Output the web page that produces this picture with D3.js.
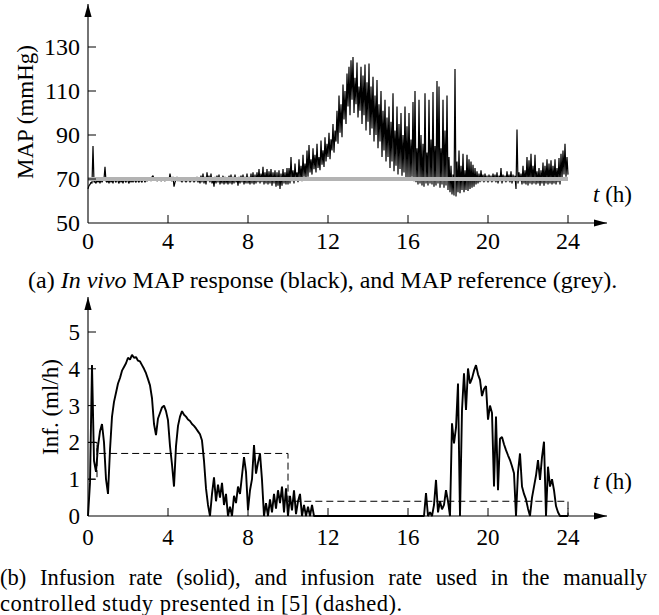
<!DOCTYPE html>
<html>
<head>
<meta charset="utf-8">
<script src="https://cdn.jsdelivr.net/npm/d3@7"></script>
<style>
  body { margin: 0; background: #fff; }
  svg text { font-family: "Liberation Serif", "Times New Roman", serif; fill: #000; }
</style>
</head>
<body>
<div id="chart"></div>
<script>
// valores
var hours = [0, 4, 8, 12, 16, 20, 24];
var mapTicks = [50, 70, 90, 110, 130];
var infTicks = [0, 1, 2, 3, 4, 5];
var mapRef = 70;
var mapStep = 0.05; // h entre muestras de MAP
var infStep = 0.1;  // h entre muestras de infusion

// MAP (mmHg), una muestra cada 0.05 h de 0 a 24 h (20 por hora)
var mapValues = [
  65.5, 67, 67.5, 68.5, 68, 85, 68.5, 69, 68, 69.5, 68.5, 69.5, 68, 70, 68.5, 69.5, 70, 75.5, 69, 68.5,
  69.5, 68, 70, 68.5, 69.5, 68, 70.5, 69, 68.5, 70, 69, 68, 70, 68.5, 69.5, 68, 70, 69, 68.5, 70,
  69, 68, 70, 68.5, 69.5, 68.5, 70, 69, 68.5, 70, 69, 68.5, 70, 69, 68.5, 70, 69.5, 68.5, 70, 69,
  70, 69.5, 70.5, 69, 71, 71.5, 70, 69.5, 70.5, 69, 70, 69.5, 70.5, 69, 70, 69.5, 70, 69, 70.5, 69.5,
  70, 69.5, 72.5, 70, 69, 71, 66.5, 68.5, 69.5, 71, 69, 70.5, 69, 70, 68.5, 70.5, 69, 70, 68.5, 70,
  69, 70.5, 68.5, 70, 69, 70.5, 68.5, 70, 69, 71, 68.5, 70.5, 68, 71.5, 68.5, 72.5, 68, 71, 67.5, 73,
  69, 71.5, 68.5, 72.5, 68, 70, 66.5, 71, 68, 71.5, 68.5, 72, 67.5, 70.5, 68, 71.5, 67.5, 71, 68, 70.5,
  67.5, 71.5, 68, 72, 67.5, 71, 68, 72, 68.5, 70.5, 67, 71, 68, 71.5, 68.5, 72, 67.5, 71, 68, 72.5,
  68, 71, 67.5, 72.5, 68, 73, 67.5, 72, 68, 73, 68.5, 74.5, 68, 72.5, 68.5, 75.5, 67.5, 73, 68, 74.5,
  67.5, 73.5, 68, 74.5, 67, 73, 68, 74, 66.5, 73, 67, 74, 65.5, 72.5, 67, 74.5, 68, 73, 67.5, 75,
  67.5, 75, 68, 80, 69, 74, 68, 77, 70, 73, 68.5, 79, 69.5, 76, 69, 81, 71, 77, 70.5, 83,
  71, 85.5, 73, 79, 72, 84, 74.5, 81, 73, 86, 75, 80, 74, 87.5, 76.5, 83, 75.5, 89, 78, 86,
  80, 91, 79, 88, 83, 95, 82, 92, 87, 101, 86, 108, 91, 104, 89, 113, 97, 110, 95, 118,
  103, 121, 99, 124, 106, 125.5, 100, 116, 104, 123, 98, 112, 101, 121, 95, 117, 99, 122, 92, 114,
  96, 122.5, 90, 112, 93, 116.5, 87, 108, 90, 115, 84, 104, 87, 110, 80, 101, 83, 106, 78, 98,
  80, 103, 75, 96, 78, 109, 73.5, 92, 76, 103, 72, 95, 74.5, 100, 71.5, 90, 73, 103, 70.5, 94,
  70.5, 100, 70, 88, 71, 105, 69, 110, 68.5, 84, 67.5, 106, 68, 90, 67, 86, 66.5, 109, 68, 82,
  67, 106, 68, 88, 67.5, 109.5, 66.5, 85, 67, 114.5, 68, 112, 66, 84, 67.5, 106, 66, 92, 67, 108,
  65, 80, 64, 76, 63, 72, 62.5, 120, 62, 78, 64, 83, 63.5, 76, 65, 81.5, 64, 74, 65, 81,
  64.5, 79, 65.5, 78, 66, 76.5, 66.5, 75, 67.5, 73.5, 68, 72.5, 68.5, 74, 69, 72, 68.5, 72.5, 69, 71.5,
  68.5, 72, 69, 71.5, 68.5, 72.5, 69, 72, 68.5, 73, 68, 71.5, 69, 75, 68, 72, 69, 71.5, 68.5, 73.5,
  69, 72, 68.5, 73.5, 68, 72, 69, 71.5, 65.5, 92.5, 68, 73, 69, 72.5, 67.5, 76, 68, 74, 67.5, 80,
  67, 78.5, 68, 81.5, 67.5, 76, 68, 81, 67.5, 73.5, 68, 75, 67, 74, 68, 77.5, 67, 76, 68, 79,
  67.5, 77, 68, 78.5, 67.5, 76, 68, 79, 67.5, 75, 68.5, 79.5, 67.5, 81.5, 70, 83, 72, 86, 71, 80,
  72
];

// infusion (ml/h), una muestra cada 0.1 h de 0 a 24 h
var infValues = [
  0, 0.9, 4.1, 1.5, 1.2, 1.9, 2.3, 2.5, 2.0, 1.0,
  0.6, 1.8, 2.7, 3.1, 3.35, 3.6, 3.75, 3.95, 4.05, 4.15,
  4.3, 4.25, 4.38, 4.3, 4.32, 4.22, 4.2, 4.1, 4.0, 3.88,
  3.72, 3.55, 3.2, 2.5, 2.2, 2.65, 2.8, 2.95, 3.0, 2.85,
  2.6, 1.9, 1.4, 0.8, 1.9, 2.45, 2.7, 2.85, 2.75, 2.7,
  2.62, 2.58, 2.5, 2.45, 2.38, 2.3, 2.22, 2.05, 1.5, 0.75,
  0.3, 0, 0.6, 1.05, 0.4, 0.85, 0.5, 0.9, 0.3, 0.6,
  0, 0.25, 0, 0.55, 0.35, 0.8, 0.6, 1.1, 1.6, 1.2,
  0.16, 0.7, 1.0, 1.93, 1.15, 1.45, 1.7, 0.98, 0, 0.35,
  0, 0.45, 0.1, 0.6, 0.2, 0.7, 0.35, 0.8, 0.1, 0.75,
  0, 0.55, 0.15, 0.7, 0.05, 0.4, 0.6, 0, 0.3, 0,
  0.25, 0, 0.3, 0, 0, 0, 0, 0, 0, 0,
  0, 0, 0, 0, 0, 0, 0, 0, 0, 0,
  0, 0, 0, 0, 0, 0, 0, 0, 0, 0,
  0, 0, 0, 0, 0, 0, 0, 0, 0, 0,
  0, 0, 0, 0, 0, 0, 0, 0, 0, 0,
  0, 0, 0, 0, 0, 0, 0, 0, 0, 0.62,
  0, 0.1, 0, 0.3, 0.98, 0.1, 0.4, 0.18, 0.3, 0.7,
  0.4, 0, 2.52, 1.97, 2.4, 3.6, 0, 2.88, 3.88, 2.88,
  4.01, 3.6, 3.74, 3.95, 4.1, 3.85, 3.7, 3.26, 3.45, 3.53,
  2.62, 3.0, 2.8, 0.8, 2.7, 0.7, 2.1, 2.15, 1.95, 1.79,
  1.65, 1.52, 1.35, 1.16, 0, 1.2, 1.7, 0.8, 0.6, 0.45,
  0.2, 0, 0.5, 0.8, 1.1, 1.52, 0.98, 1.6, 2.02, 0,
  1.34, 0.8, 1.0, 0.7, 0.27, 0.1, 0, 0, 0, 0,
  0
];

// infusion del estudio manual [5] (discontinua)
var manualT = [0, 0.45, 0.45, 0, 0.45, 0.45, 10, 10, 24, 24];
var manualV = [1, 1, 2, 2, 2, 1.7, 1.7, 0.4, 0.4, 0];

var W = 659, H = 615;
var svg = d3.select("#chart").append("svg").attr("width", W).attr("height", H);

function flecha(g, x1, y1, x2, y2) {
    g.append("line").attr("x1", x1).attr("y1", y1).attr("x2", x2).attr("y2", y2)
        .attr("stroke", "#000").attr("stroke-width", 1.1);
    var ang = Math.atan2(y2 - y1, x2 - x1);
    var L = 13, w = 3.6;
    var bx = x2 - L * Math.cos(ang), by = y2 - L * Math.sin(ang);
    var px = -Math.sin(ang) * w, py = Math.cos(ang) * w;
    g.append("path")
        .attr("d", "M" + x2 + "," + y2 + "L" + (bx + px) + "," + (by + py) + "L" + (bx - px) + "," + (by - py) + "Z")
        .attr("fill", "#000");
}

function ejes(g, x, y, o) {
    var x0 = x.range()[0], y0 = y.range()[0];
    flecha(g, x0, y0, 607, y0);
    flecha(g, x0, y0, x0, o.yTop);
    // ticks x
    g.selectAll(".tx").data(hours.filter(function (d) { return d > 0; })).enter().append("line")
        .attr("x1", function (d) { return x(d); }).attr("x2", function (d) { return x(d); })
        .attr("y1", y0).attr("y2", y0 - 8).attr("stroke", "#000").attr("stroke-width", 1);
    g.selectAll(".lx").data(hours).enter().append("text")
        .attr("x", function (d) { return x(d); }).attr("y", y0 + o.xLabOff)
        .attr("text-anchor", "middle").style("font-size", o.tickSize)
        .text(function (d) { return d; });
    // ticks y
    g.selectAll(".ty").data(o.ticks.slice(1)).enter().append("line")
        .attr("x1", x0).attr("x2", x0 + 8)
        .attr("y1", function (d) { return y(d); }).attr("y2", function (d) { return y(d); })
        .attr("stroke", "#000").attr("stroke-width", 1);
    g.selectAll(".ly").data(o.ticks).enter().append("text")
        .attr("x", 80).attr("y", function (d) { return y(d); })
        .attr("dy", "0.35em").attr("text-anchor", "end").style("font-size", o.tickSize)
        .text(function (d) { return d; });
    g.append("text").attr("transform", "translate(" + o.labX + "," + o.labY + ") rotate(-90)")
        .attr("text-anchor", "middle").attr("dy", "0.35em").style("font-size", "23px")
        .text(o.label);
    var t = g.append("text").attr("x", 593).attr("y", o.tY).style("font-size", "23px");
    t.append("tspan").style("font-style", "italic").text("t");
    t.append("tspan").text(" (h)");
}

// ---------- grafica (a) ----------
var xa = d3.scaleLinear().domain([0, 24]).range([88, 568]);
var ya = d3.scaleLinear().domain([50, 130]).range([223, 47]);
var ga = svg.append("g");

var lineaMap = d3.line()
    .x(function (d, i) { return xa(i * mapStep); })
    .y(function (d) { return ya(d); });
ga.append("path").datum(mapValues).attr("d", lineaMap)
    .attr("fill", "none").attr("stroke", "#000").attr("stroke-width", 1.2)
    .attr("stroke-linejoin", "bevel");
ga.append("line").attr("x1", xa(0)).attr("x2", xa(24))
    .attr("y1", ya(mapRef)).attr("y2", ya(mapRef))
    .attr("stroke", "#b3b3b3").attr("stroke-width", 4);
ejes(ga, xa, ya, {ticks: mapTicks, yTop: 4, label: "MAP (mmHg)", labX: 25, labY: 112,
    tY: 202, xLabOff: 26, tickSize: "24px"});

var capA = svg.append("text").attr("x", 28).attr("y", 288).style("font-size", "24px");
capA.append("tspan").text("(a) ");
capA.append("tspan").style("font-style", "italic").text("In vivo");
capA.append("tspan").text(" MAP response (black), and MAP reference (grey).");

// ---------- grafica (b) ----------
var xb = d3.scaleLinear().domain([0, 24]).range([88, 568]);
var yb = d3.scaleLinear().domain([0, 5]).range([516, 332]);
var gb = svg.append("g");

var lineaInf = d3.line()
    .x(function (d, i) { return xb(i * infStep); })
    .y(function (d) { return yb(d); });
gb.append("path").datum(infValues).attr("d", lineaInf)
    .attr("fill", "none").attr("stroke", "#000").attr("stroke-width", 1.9)
    .attr("stroke-linejoin", "bevel");
var lineaMan = d3.line()
    .x(function (d, i) { return xb(manualT[i]); })
    .y(function (d) { return yb(d); });
gb.append("path").datum(manualV).attr("d", lineaMan)
    .attr("fill", "none").attr("stroke", "#000").attr("stroke-width", 1)
    .attr("stroke-dasharray", "7,4");
ejes(gb, xb, yb, {ticks: infTicks, yTop: 297, label: "Inf. (ml/h)", labX: 50, labY: 407,
    tY: 489, xLabOff: 29, tickSize: "23px"});

// pie (b) justificado en la primera linea
var capSize = "22.5px";
var palabras = "(b) Infusion rate (solid), and infusion rate used in the manually".split(" ");
var anchos = [];
var tmp = svg.append("g");
palabras.forEach(function (p) {
    var t = tmp.append("text").style("font-size", capSize).text(p);
    anchos.push(t.node().getComputedTextLength());
});
tmp.remove();
var total = d3.sum(anchos);
var hueco = (647 - total) / (palabras.length - 1);
var xpos = 0;
palabras.forEach(function (p, i) {
    svg.append("text").attr("x", xpos).attr("y", 585).style("font-size", capSize).text(p);
    xpos += anchos[i] + hueco;
});
svg.append("text").attr("x", 0).attr("y", 611).style("font-size", capSize)
    .attr("textLength", 402).attr("lengthAdjust", "spacing")
    .text("controlled study presented in [5] (dashed).");
</script>
</body>
</html>
